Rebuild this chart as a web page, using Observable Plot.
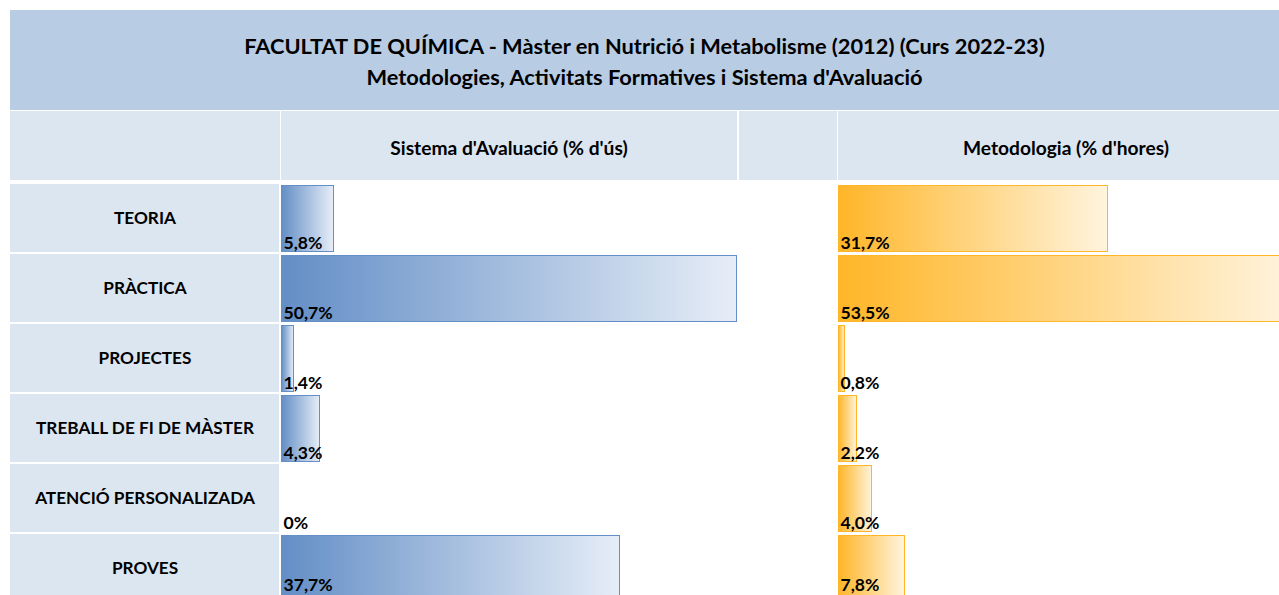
<!DOCTYPE html>
<html>
<head>
<meta charset="utf-8">
<script src="https://cdn.jsdelivr.net/npm/d3@7"></script>
<script src="https://cdn.jsdelivr.net/npm/@observablehq/plot@0.6"></script>
<style>
  html, body { margin: 0; padding: 0; background: #fff; overflow: hidden; }
  #root { position: relative; width: 1279px; height: 595px; overflow: hidden; background: #fff;
          font-family: Lato, "Open Sans", sans-serif; font-weight: bold; color: #000; }
  .cell { position: absolute; display: flex; align-items: center; justify-content: center; text-align: center; box-sizing: border-box; }
  .title { background: #b8cce4; flex-direction: column; font-size: 21.8px; line-height: 31px; padding-top: 2px; }
  .head { background: #dce6f1; font-size: 19.2px; padding-top: 4px; }
  .abs { position: absolute; }
</style>
</head>
<body>
<div id="root"></div>
<script>
// ---- data ----
const titleLines = [
  "FACULTAT DE QUÍMICA - Màster en Nutrició i Metabolisme (2012) (Curs 2022-23)",
  "Metodologies, Activitats Formatives i Sistema d'Avaluació"
];
const seriesNames = ["Sistema d'Avaluació (% d'ús)", "Metodologia (% d'hores)"];
const categories = ["TEORIA", "PRÀCTICA", "PROJECTES", "TREBALL DE FI DE MÀSTER", "ATENCIÓ PERSONALIZADA", "PROVES"];
const avaluacio = [5.8, 50.7, 1.4, 4.3, 0, 37.7];
const metodologia = [31.7, 53.5, 0.8, 2.2, 4.0, 7.8];

// ---- layout ----
const FONT = "Lato, 'Open Sans', sans-serif";
const root = document.getElementById("root");
function addCell(cls, x, y, w, h, text) {
  const d = document.createElement("div");
  d.className = "cell " + cls;
  Object.assign(d.style, { left: x + "px", top: y + "px", width: w + "px", height: h + "px" });
  if (text) d.textContent = text;
  root.appendChild(d);
  return d;
}
const title = addCell("title", 10, 10, 1269, 100);
titleLines.forEach(t => { const s = document.createElement("div"); s.textContent = t; title.appendChild(s); });

addCell("head", 10, 111, 270, 69);
addCell("head", 281, 111, 456, 69, seriesNames[0]);
addCell("head", 739, 111, 98, 69);
addCell("head", 838, 111, 456, 69, seriesNames[1]);

const rowPitch = 70.6;
const yRange = [0.5, 0.5 + categories.length * rowPitch];
const plotHeight = 595 - 181;
const fmt = v => v === 0 ? "0%" : v.toFixed(1).replace(".", ",") + "%";

function place(svg, x, y) {
  svg.classList.add("abs");
  svg.style.left = x + "px";
  svg.style.top = y + "px";
  svg.style.background = "transparent";
  svg.style.maxWidth = "none";
  root.appendChild(svg);
}

// left category column
const left = Plot.plot({
  width: 270, height: plotHeight, margin: 0,
  x: { domain: [0, 1], range: [0, 269], axis: null },
  y: { domain: categories, range: yRange, padding: 0, axis: null },
  marks: [
    Plot.barX(categories, { x1: 0, x2: 1, y: d => d, fill: "#dce6f1", insetTop: 1, insetBottom: 1 }),
    Plot.text(categories, { x: 0.5, y: d => d, text: d => d, fontSize: 17.2, fontWeight: "bold", fill: "#000",
      fontFamily: FONT })
  ]
});
place(left, 10, 181);

function barPlot(values, color, light, gradId, width, barRange) {
  const data = categories.map((c, i) => ({ cat: c, v: values[i], last: i === categories.length - 1 }));
  const labelOpts = { x: 0, y: "cat", text: d => fmt(d.v), textAnchor: "start", dx: 2,
    fontSize: 17.6, fontWeight: "bold", fill: "#000", fontFamily: FONT };
  const svg = Plot.plot({
    width, height: plotHeight, margin: 0,
    x: { domain: [0, d3.max(values)], range: [0, barRange], axis: null },
    y: { domain: categories, range: yRange, padding: 0, axis: null },
    marks: [
      Plot.barX(data.filter(d => d.v > 0), {
        x: "v", y: "cat", fill: `url(#${gradId})`, stroke: color, strokeWidth: 1,
        insetTop: 2, insetBottom: 2, insetLeft: 0.5, shapeRendering: "crispEdges"
      }),
      Plot.text(data.filter(d => !d.last), { ...labelOpts, dy: 25 }),
      Plot.text(data.filter(d => d.last), { ...labelOpts, dy: 17.3 })
    ]
  });
  svg.insertAdjacentHTML("afterbegin",
    `<defs><linearGradient id="${gradId}" x1="0" x2="1" y1="0" y2="0">
       <stop offset="0" stop-color="${color}"/><stop offset="1" stop-color="${light}"/>
     </linearGradient></defs>`);
  return svg;
}

place(barPlot(avaluacio, "#638ec6", "#e6edf7", "gBlue", 458, 455), 281, 181);
place(barPlot(metodologia, "#ffb628", "#fff4de", "gOrange", 441, 454), 838, 181);
</script>
</body>
</html>
